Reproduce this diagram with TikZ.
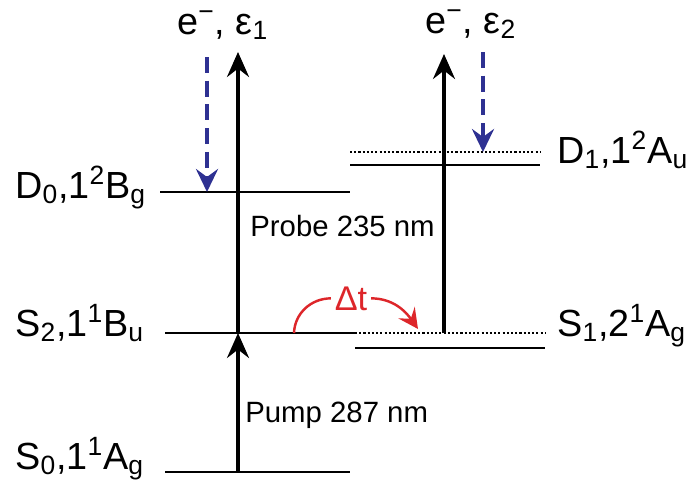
\documentclass[tikz,border=0pt]{standalone}
\usepackage{fontspec}
\setmainfont{Liberation Sans}
\usetikzlibrary{arrows.meta}
\definecolor{probeblue}{RGB}{46,49,146}
\definecolor{delayred}{RGB}{221,38,42}
\newcommand{\elec}{e\textsuperscript{\char"2212}}
\tikzset{
  level/.style={line width=1.1pt},
  virtual/.style={line width=0.9pt, dash pattern=on 1.2pt off 1.2pt},
  photon/.style={line width=2pt, -{Stealth[length=5mm, width=4.4mm, inset=1.7mm]}},
  photoelec/.style={probeblue, line width=2.2pt, dash pattern=on 9pt off 4.5pt,
    -{Stealth[length=4.6mm, width=4.4mm, inset=1.6mm]}},
  delay/.style={delayred, line width=1.4pt, -{Stealth[length=4mm, width=4mm, inset=1.5mm]}},
  statelabel/.style={font=\fontsize{21.5}{25}\selectfont, inner sep=0pt, anchor=base west},
  beamlabel/.style={font=\fontsize{16.7}{20}\selectfont, inner sep=0pt, anchor=base west},
}
\begin{document}
\begin{tikzpicture}[x=0.02cm, y=-0.02cm]
    \useasboundingbox (0,0) rectangle (688,487);
    % energy levels
    \draw[level] (165,472) -- (350,472);
    \draw[level] (165,333) -- (355,333);
    \draw[virtual] (355,333) -- (545,333);
    \draw[level] (355,348) -- (545,348);
    \draw[level] (160,192) -- (350,192);
    \draw[virtual] (350,152) -- (540,152);
    \draw[level] (350,165) -- (540,165);
    % state labels
    \node[statelabel] (S0) at (15,469) {S\textsubscript{0},1\textsuperscript{1}A\textsubscript{g}};
    \node[statelabel] (S2) at (15,336) {S\textsubscript{2},1\textsuperscript{1}B\textsubscript{u}};
    \node[statelabel] (D0) at (15,198) {D\textsubscript{0},1\textsuperscript{2}B\textsubscript{g}};
    \node[statelabel] (D1) at (557,163) {D\textsubscript{1},1\textsuperscript{2}A\textsubscript{u}};
    \node[statelabel] (S1) at (557,336) {S\textsubscript{1},2\textsuperscript{1}A\textsubscript{g}};
    \node[statelabel] (eps1) at (177,34) {\elec, ε\textsubscript{1}};
    \node[statelabel] (eps2) at (425,33) {\elec, ε\textsubscript{2}};
    % pump and probe
    \coordinate (g0) at (238,472);
    \coordinate (x2) at (238,333);
    \coordinate (top1) at (238,52);
    \coordinate (x1) at (444,333);
    \coordinate (top2) at (444,54);
    \draw[photon] (g0) -- (x2);
    \draw[photon] (x2) -- (top1);
    \draw[photon] (x1) -- (top2);
    \node[beamlabel] (probe) at (250,236) {Probe 235 nm};
    \node[beamlabel] (pump) at (245,422) {Pump 287 nm};
    % photoelectrons
    \coordinate (el1) at (207,57);
    \coordinate (ion0) at (207,192);
    \coordinate (el2) at (483,52);
    \coordinate (ion1) at (483,152);
    \draw[photoelec] (el1) -- (ion0);
    \draw[photoelec] (el2) -- (ion1);
    % delay
    \node[delayred, font=\fontsize{19.5}{23}\selectfont, inner sep=2pt, anchor=base] (dt) at (351,310) {Δt};
    \coordinate (dtfrom) at (294,333);
    \coordinate (dtto) at (418,329);
    \draw[delayred, line width=1.4pt] (dtfrom) to[out=88, in=180] (dt.west);
    \draw[delay] (dt.east) to[out=0, in=125] (dtto);
\end{tikzpicture}
\end{document}
